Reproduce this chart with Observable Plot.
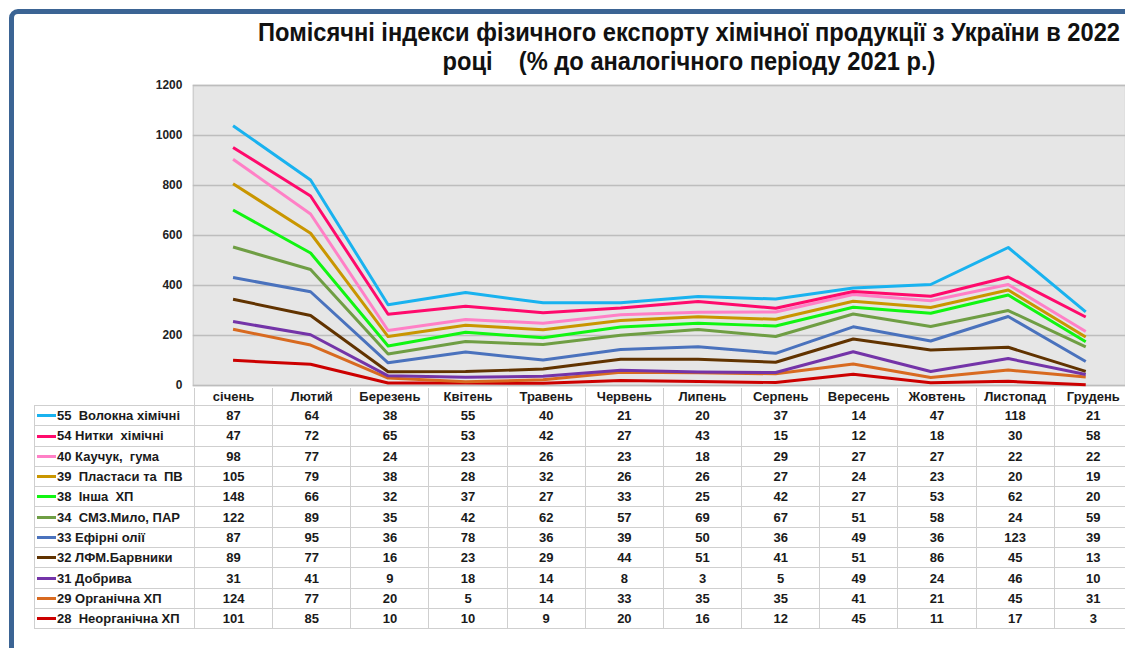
<!DOCTYPE html>
<html>
<head>
<meta charset="utf-8">
<script src="https://cdn.jsdelivr.net/npm/d3@7"></script>
<script src="https://cdn.jsdelivr.net/npm/@observablehq/plot@0.6"></script>
<style>
  html, body { margin: 0; padding: 0; background: #fff; overflow: hidden; }
  #c { position: relative; width: 1125px; height: 648px; overflow: hidden; background: #fff;
       font-family: "Liberation Sans", Arial, sans-serif; }
  #frame { position: absolute; left: 9px; top: 9px; width: 1300px; height: 800px;
           border: 5px solid #3b6494; border-radius: 9px; box-sizing: border-box; }
  #title { position: absolute; left: 689px; top: 18px; text-align: center; display: inline-block;
           font-family: "Liberation Sans", Arial, sans-serif;
           font-weight: bold; font-size: 25px; line-height: 29px; color: #111; white-space: pre;
           transform-origin: 0 0; }
  #chart { position: absolute; left: 0; top: 75px; }
  #tbl { position: absolute; left: 34px; top: 388px; border-collapse: collapse; table-layout: fixed;
         font-weight: bold; font-size: 13px; color: #1a1a1a; }
  #tbl td { border: 1.5px solid #cfcfcf; text-align: center; padding: 0; white-space: pre; overflow: hidden; }
  #tbl tr.h td { height: 17px; border-top: none; }
  #tbl tr.h td.corner { border: none; border-right: 1.5px solid #cfcfcf; }
  #tbl tr.r td { height: 19.3px; }
  #tbl td.lab { text-align: left; padding-left: 2px; }
  .mk { display: inline-block; width: 19px; height: 3px; vertical-align: middle; margin-right: 1px; position: relative; top: -1px; }
</style>
</head>
<body>
<div id="c">
  <div id="frame"></div>
  <div id="chart"></div>
  <table id="tbl"></table>
  <div id="title"></div>
</div>
<script>
const months = ["січень","Лютий","Березень","Квітень","Травень","Червень","Липень","Серпень","Вересень","Жовтень","Листопад","Грудень"];
// series in table order (top to bottom)
const seriesNames = ["55  Волокна хімічні","54 Нитки  хімічні","40 Каучук,  гума","39  Пластаси та  ПВ","38  Інша  ХП","34  СМЗ.Мило, ПАР","33 Ефірні олії","32 ЛФМ.Барвники","31 Добрива","29 Органічна ХП","28  Неорганічна ХП"];
const seriesColors = ["#19b2ef","#ff0a6c","#ff80c6","#c99600","#11f511","#6f9e44","#4a72bd","#613300","#7434a8","#d86a20","#cc0000"];
const v55 = [87,64,38,55,40,21,20,37,14,47,118,21];
const v54 = [47,72,65,53,42,27,43,15,12,18,30,58];
const v40 = [98,77,24,23,26,23,18,29,27,27,22,22];
const v39 = [105,79,38,28,32,26,26,27,24,23,20,19];
const v38 = [148,66,32,37,27,33,25,42,27,53,62,20];
const v34 = [122,89,35,42,62,57,69,67,51,58,24,59];
const v33 = [87,95,36,78,36,39,50,36,49,36,123,39];
const v32 = [89,77,16,23,29,44,51,41,51,86,45,13];
const v31 = [31,41,9,18,14,8,3,5,49,24,46,10];
const v29 = [124,77,20,5,14,33,35,35,41,21,45,31];
const v28 = [101,85,10,10,9,20,16,12,45,11,17,3];
const seriesValues = [v55,v54,v40,v39,v38,v34,v33,v32,v31,v29,v28];
const yTicks = [0,200,400,600,800,1000,1200];
const titleText = "Помісячні індекси фізичного експорту хімічної продукції з України в 2022\nроці    (% до аналогічного періоду 2021 р.)";

// title, squeezed horizontally to the reference's condensed width
const title = document.getElementById("title");
title.textContent = titleText;
const tw = title.getBoundingClientRect().width;
const sx = 862 / tw;
title.style.transform = `scaleX(${sx}) translateX(-50%)`;

// long table, bottom of stack first (28 ... 55)
const data = [];
for (let s = seriesNames.length - 1; s >= 0; s--) {
  months.forEach((m, i) => data.push({series: seriesNames[s], month: m, value: seriesValues[s][i]}));
}

const chart = Plot.plot({
  width: 1132, height: 325,
  marginLeft: 194, marginRight: 0, marginTop: 10, marginBottom: 13,
  style: {background: "transparent", fontFamily: "Liberation Sans, Arial, sans-serif"},
  x: {type: "point", domain: months, padding: 0.5, axis: null},
  y: {domain: [0, 1200], ticks: yTicks, axis: null},
  color: {domain: seriesNames, range: seriesColors},
  marks: [
    Plot.frame({fill: "#e6e6e6", stroke: "#cfcfcf", strokeWidth: 1.5}),
    Plot.gridY(yTicks, {stroke: "#bdbdbd", strokeOpacity: 1, strokeWidth: 1.5}),
    Plot.axisY(yTicks, {tickSize: 0, tickPadding: 11, fontWeight: "bold", fontSize: 12, fill: "#222",
      label: null, tickFormat: d => String(d)}),
    Plot.lineY(data, Plot.stackY2({x: "month", y: "value", z: "series", stroke: "series", order: null,
      strokeWidth: 3, strokeLinejoin: "round", strokeLinecap: "butt"}))
  ]
});
document.getElementById("chart").appendChild(chart);

// data table (x-axis categories + values)
const colW = 938 / 12;
const tbl = document.getElementById("tbl");
const cg = document.createElement("colgroup");
const c0 = document.createElement("col"); c0.style.width = "160px"; cg.appendChild(c0);
months.forEach(() => { const c = document.createElement("col"); c.style.width = colW + "px"; cg.appendChild(c); });
tbl.appendChild(cg);
tbl.style.width = (160 + 938) + "px";
const hr = document.createElement("tr"); hr.className = "h";
const corner = document.createElement("td"); corner.className = "corner"; hr.appendChild(corner);
months.forEach(m => { const td = document.createElement("td"); td.textContent = m; hr.appendChild(td); });
tbl.appendChild(hr);
seriesNames.forEach((name, s) => {
  const tr = document.createElement("tr"); tr.className = "r";
  const lab = document.createElement("td"); lab.className = "lab";
  const mk = document.createElement("span"); mk.className = "mk"; mk.style.background = seriesColors[s];
  lab.appendChild(mk); lab.appendChild(document.createTextNode(name));
  tr.appendChild(lab);
  seriesValues[s].forEach(v => { const td = document.createElement("td"); td.textContent = v; tr.appendChild(td); });
  tbl.appendChild(tr);
});
</script>
</body>
</html>
